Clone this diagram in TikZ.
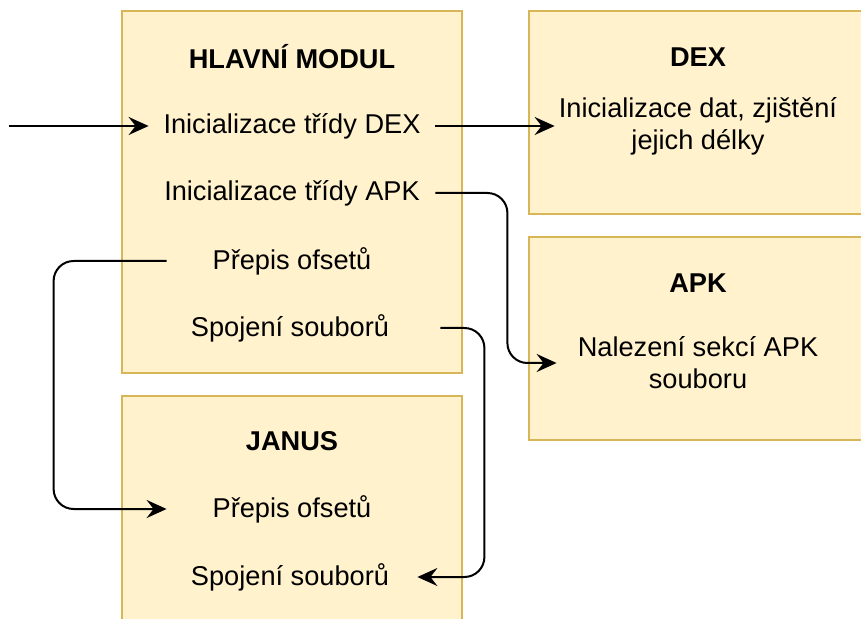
\documentclass[tikz,border=0pt]{standalone}
\usepackage{fontspec}
\setmainfont{Liberation Sans}
\usetikzlibrary{arrows.meta}
\definecolor{boxfill}{HTML}{FFF2CC}
\definecolor{boxline}{HTML}{D6B656}
\begin{document}
\begin{tikzpicture}[x=0.5pt, y=-0.5pt,
                    module box/.style={rectangle,draw=boxline,fill=boxfill,line width=1pt,inner sep=0pt},
                    title node/.style={font=\fontsize{13.6}{16}\selectfont\bfseries},
                    step node/.style={font=\fontsize{13.6}{16}\selectfont,align=center,inner sep=0pt},
                    flow/.style={-{Stealth[length=10pt,width=9pt,inset=3.5pt]},line width=1pt,rounded corners=10pt}]

  \useasboundingbox (0,0) rectangle (861,619);

  % modules
  \node[module box,minimum width=170pt,minimum height=181pt] (main) at (292,192) {};
  \node[module box,minimum width=171pt,minimum height=101.5pt] (dex) at (700,112.5) {};
  \node[module box,minimum width=171pt,minimum height=101.5pt] (apk) at (700,338.5) {};
  \node[module box,minimum width=170pt,minimum height=117pt] (janus) at (292,513) {};

  \node[title node] (maintitle) at (292,57) {HLAVNÍ MODUL};
  \node[title node] (dextitle) at (698,57) {DEX};
  \node[title node] (apktitle) at (698,283) {APK};
  \node[title node] (janustitle) at (292,441) {JANUS};

  % steps
  \node[step node,minimum width=143pt] (dexinit) at (292,126) {Inicializace třídy DEX};
  \node[step node,minimum width=143pt] (apkinit) at (292,193) {Inicializace třídy APK};
  \node[step node,minimum width=125pt] (ofsets) at (292,261) {Přepis ofsetů};
  \node[step node,minimum width=150pt] (join) at (290,328) {Spojení souborů};
  \node[step node,minimum width=143pt] (dexdata) at (698,126) {Inicializace dat, zjištění\\jejich délky};
  \node[step node,minimum width=141pt] (apkfind) at (698,363) {Nalezení sekcí APK\\souboru};
  \node[step node,minimum width=125pt] (janusofs) at (292,509) {Přepis ofsetů};
  \node[step node,minimum width=127pt] (janusjoin) at (290,577) {Spojení souborů};

  \coordinate (entry) at (9,126);

  \draw[flow] (entry) -- (dexinit.west);
  \draw[flow] (dexinit.east) -- (dexdata.west);
  \draw[flow] (apkinit.east) -- ++(72,0) |- (apkfind.west);
  \draw[flow] (ofsets.west) -- ++(-113,0) |- (janusofs.west);
  \draw[flow] (join.east) -- ++(44,0) |- (janusjoin.east);

\end{tikzpicture}
\end{document}
